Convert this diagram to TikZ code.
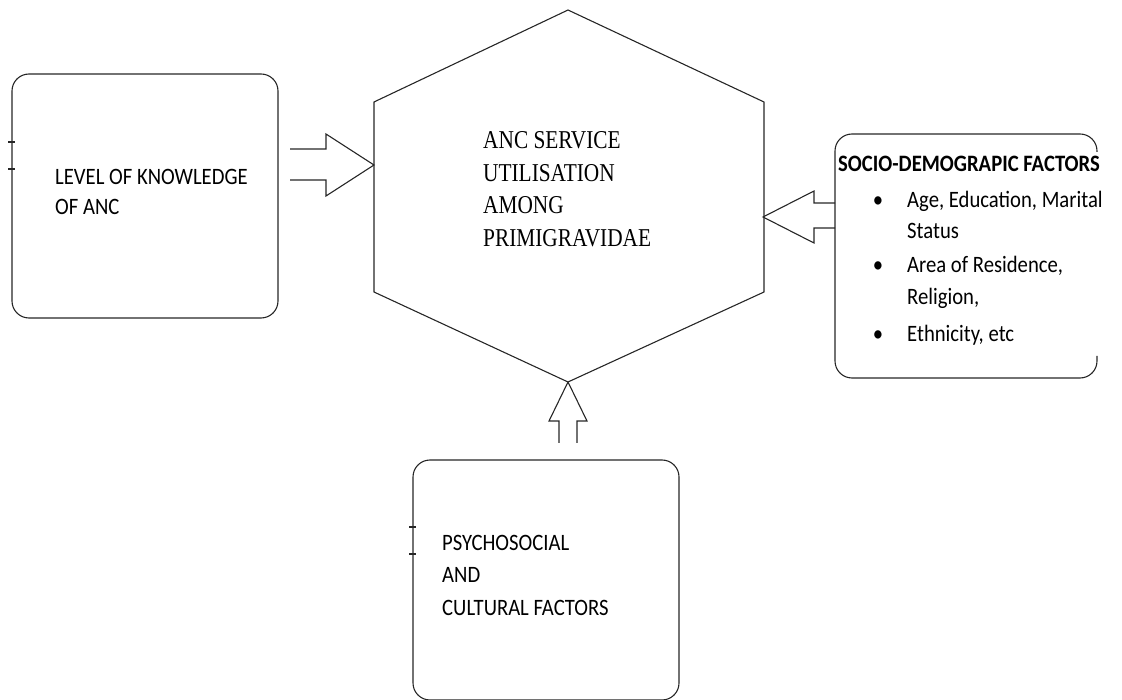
\documentclass[tikz,border=0pt]{standalone}
\usepackage{fontspec}
\newfontfamily\calfont{Carlito}[FakeStretch=0.88]
\newfontfamily\timesfont{Liberation Serif}[FakeStretch=0.83]
\begin{document}
\begin{tikzpicture}[x=1pt,y=-1pt,
  ln/.style={line width=1.1pt, draw=black!85, line join=miter},
  boxx/.style={ln, rounded corners=17pt, inner sep=0pt},
  txt/.style={inner sep=0pt, anchor=base west, text=black, font=\calfont\fontsize{23.5}{28}\selectfont},
  txtb/.style={txt, font=\calfont\bfseries\fontsize{23.5}{28}\selectfont},
  hext/.style={inner sep=0pt, anchor=base west, text=black, font=\timesfont\fontsize{25.7}{32}\selectfont},
  blk/.style={ln, line join=miter}]
\useasboundingbox (0,0) rectangle (1122,700);

% hexagon
\coordinate (hT) at (568,10);
\coordinate (hUL) at (374,102);
\coordinate (hLL) at (374,292);
\coordinate (hB) at (568,382);
\coordinate (hLR) at (764,292);
\coordinate (hUR) at (764,102);
\draw[ln] (hT) -- (hUR) -- (hLR) -- (hB) -- (hLL) -- (hUL) -- cycle;
\node[hext] (h1) at (483,149) {ANC SERVICE};
\node[hext] (h2) at (483,181.5) {UTILISATION};
\node[hext] (h3) at (483,214) {AMONG};
\node[hext] (h4) at (483,246.5) {PRIMIGRAVIDAE};

% left box
\node[boxx, draw, minimum width=266pt, minimum height=244pt] (know) at (145,196) {};
\draw[ln] (8,142) -- (15,142) (8,169) -- (15,169);
\node[txt] (k1) at (55,185) {LEVEL OF KNOWLEDGE};
\node[txt] (k2) at (55,215) {OF ANC};

% bottom box
\node[boxx, draw, minimum width=266pt, minimum height=240pt] (psy) at (546,580) {};
\draw[ln] (409,527) -- (416,527) (409,554) -- (416,554);
\node[txt] (p1) at (442,550) {PSYCHOSOCIAL};
\node[txt] (p2) at (442,582.5) {AND};
\node[txt] (p3) at (442,615) {CULTURAL FACTORS};

% right box (right side partly hidden)
\coordinate (rA) at (1097,152);
\coordinate (rB) at (1097,134);
\coordinate (rC) at (835,134);
\coordinate (rD) at (835,378);
\coordinate (rE) at (1097,378);
\coordinate (rF) at (1097,356);
\draw[ln, rounded corners=17pt] (rA) -- (rB) -- (rC) -- (rD) -- (rE) -- (rF);
\node[txtb] (s0) at (838,172) {SOCIO-DEMOGRAPIC FACTORS};
\node[txt, anchor=base] (b1) at (878,208) {•};
\node[txt] (s1) at (907,208) {Age, Education, Marital};
\node[txt] (s2) at (907,239) {Status};
\node[txt, anchor=base] (b2) at (878,273) {•};
\node[txt] (s3) at (907,273) {Area of Residence,};
\node[txt] (s4) at (907,305) {Religion,};
\node[txt, anchor=base] (b3) at (878,342) {•};
\node[txt] (s5) at (907,342) {Ethnicity, etc};

% block arrows
\coordinate (aL) at (374,165);
\draw[blk] (290,149) -- (326,149) -- (326,134) -- (aL) -- (326,196) -- (326,180) -- (290,180);
\coordinate (aR) at (763,217);
\draw[blk] (835,203) -- (814,203) -- (814,191) -- (aR) -- (814,243) -- (814,228) -- (835,228);
\draw[blk] (559,443) -- (559,421) -- (549,421) -- (hB) -- (587,421) -- (577,421) -- (577,443);
\end{tikzpicture}
\end{document}
